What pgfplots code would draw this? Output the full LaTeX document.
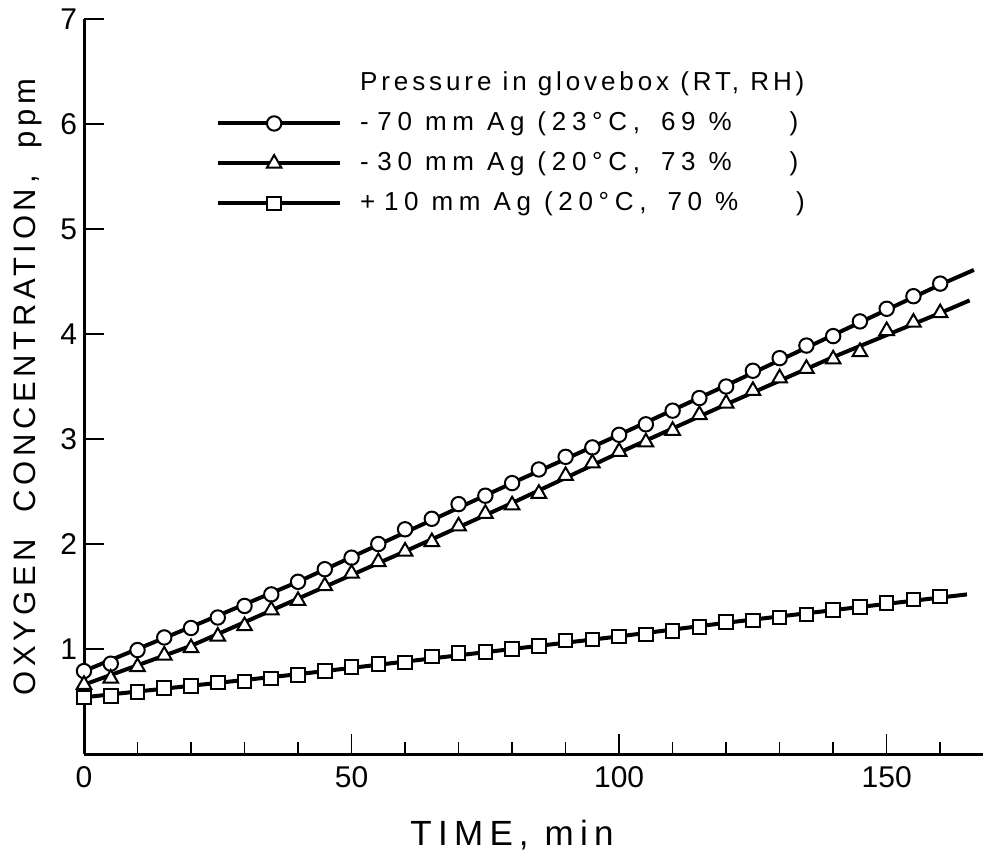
\documentclass[border=0pt]{standalone}
\usepackage{fontspec}
\setmainfont{Liberation Sans}
\usepackage{pgfplots}
\pgfplotsset{compat=1.18}
\tikzset{mkstyle/.style={black, line width=1bp, fill=white}}
\newcommand{\rowfont}{\addfontfeatures{LetterSpace=22}}
\begin{document}
\begin{tikzpicture}
\begin{axis}[
  scale only axis, width=449.5bp, height=367.5bp,
  xmin=0, xmax=168, ymin=0, ymax=7,
  axis lines=left, axis line style={-, line width=1.5bp},
  clip=false,
  xtick={0,50,100,150},
  minor xtick={10,20,30,40,60,70,80,90,110,120,130,140,160},
  ytick={1,2,3,4,5,6,7},
  tick align=inside,
  major tick length=10bp, minor tick length=6bp,
  tick style={black, line width=0.8bp},
  tick label style={font=\fontsize{15bp}{18bp}\selectfont},
  xticklabel style={yshift=-3bp},
  /pgf/number format/assume math mode=true,
  legend cell align=left,
  legend style={draw=none, fill=none, at={(0.147,0.93)}, anchor=north west,
    inner sep=0pt, outer sep=0pt, column sep=9bp, row sep=7bp,
    nodes={inner sep=0pt, text height=10bp, text depth=3bp},
    font=\fontsize{13bp}{16bp}\selectfont\addfontfeatures{LetterSpace=15}},
  legend image code/.code={\draw[mark repeat=2,mark phase=2,#1] plot coordinates {(0bp,0bp) (28bp,0bp) (61bp,0bp)};},
]
\addlegendimage{empty legend}
\addlegendentry{Pressure in glovebox (RT, RH)}
\addlegendimage{black, line width=2bp, mark=*, mark size=3.6bp, mark options={mkstyle}}
\addlegendentry{\rowfont -\,\,70 mm Ag (23°C,\hspace{4bp} 69 \%\hspace{29bp})}
\addlegendimage{black, line width=2bp, mark=triangle*, mark size=4.2bp, mark options={mkstyle}}
\addlegendentry{\rowfont -\,\,30 mm Ag (20°C,\hspace{4bp} 73 \%\hspace{29bp})}
\addlegendimage{black, line width=2bp, mark=square*, mark size=3.4bp, mark options={mkstyle}}
\addlegendentry{\rowfont +\,\,10 mm Ag (20°C,\hspace{4bp} 70 \%\hspace{29bp})}
% fitted lines
\addplot[black, line width=2bp, no markers, forget plot] coordinates {
(0,0.79) (20,1.21) (40,1.64) (60,2.11) (80,2.58) (100,3.04) (120,3.51) (140,3.99) (160,4.47) (166.3,4.61)
};
\addplot[black, line width=2bp, no markers, forget plot] coordinates {
(0,0.66) (20,1.03) (40,1.48) (60,1.93) (80,2.39) (100,2.87) (120,3.33) (140,3.78) (160,4.20) (165.5,4.32)
};
\addplot[black, line width=2bp, no markers, forget plot] coordinates {
(0,0.54) (20,0.65) (40,0.76) (60,0.88) (80,1.00) (100,1.12) (120,1.25) (140,1.37) (160,1.49) (165,1.52)
};
% measured points
\addplot[only marks, mark=*, mark size=3.6bp, mark options={mkstyle}, forget plot] coordinates {
(0,0.79) (5,0.86) (10,0.99) (15,1.11) (20,1.20) (25,1.30) (30,1.41) (35,1.52) (40,1.64) (45,1.76)
(50,1.87) (55,2.00) (60,2.14) (65,2.24) (70,2.38) (75,2.46) (80,2.58) (85,2.71) (90,2.83) (95,2.92)
(100,3.04) (105,3.14) (110,3.27) (115,3.39) (120,3.50) (125,3.65) (130,3.77) (135,3.89) (140,3.98)
(145,4.12) (150,4.24) (155,4.36) (160,4.48)
};
\addplot[only marks, mark=triangle*, mark size=4.2bp, mark options={mkstyle}, forget plot] coordinates {
(0,0.66) (5,0.72) (10,0.83) (15,0.94) (20,1.01) (25,1.12) (30,1.22) (35,1.37) (40,1.46) (45,1.60)
(50,1.72) (55,1.83) (60,1.93) (65,2.02) (70,2.17) (75,2.29) (80,2.37) (85,2.48) (90,2.65) (95,2.77)
(100,2.88) (105,2.97) (110,3.08) (115,3.23) (120,3.34) (125,3.46) (130,3.58) (135,3.67) (140,3.76)
(145,3.83) (150,4.03) (155,4.11) (160,4.20)
};
\addplot[only marks, mark=square*, mark size=3.4bp, mark options={mkstyle}, forget plot] coordinates {
(0,0.54) (5,0.55) (10,0.59) (15,0.63) (20,0.65) (25,0.68) (30,0.69) (35,0.72) (40,0.75) (45,0.79)
(50,0.83) (55,0.86) (60,0.87) (65,0.93) (70,0.96) (75,0.97) (80,1.00) (85,1.03) (90,1.08) (95,1.09)
(100,1.12) (105,1.14) (110,1.17) (115,1.21) (120,1.26) (125,1.27) (130,1.30) (135,1.33) (140,1.37)
(145,1.40) (150,1.44) (155,1.47) (160,1.50)
};
\end{axis}
\node[rotate=90, font=\fontsize{15.5bp}{18bp}\selectfont\addfontfeatures{LetterSpace=15}] at (-28bp,183.5bp) {OXYGEN\ \ CONCENTRATION\,,\ \ ppm};
\node[font=\fontsize{17.5bp}{20bp}\selectfont\addfontfeatures{LetterSpace=18}] at (214bp,-40.5bp) {TIME\,,\ min};
\pgfresetboundingbox
\useasboundingbox (-42bp,-51.5bp) rectangle (450bp,377bp);
\end{tikzpicture}
\end{document}
